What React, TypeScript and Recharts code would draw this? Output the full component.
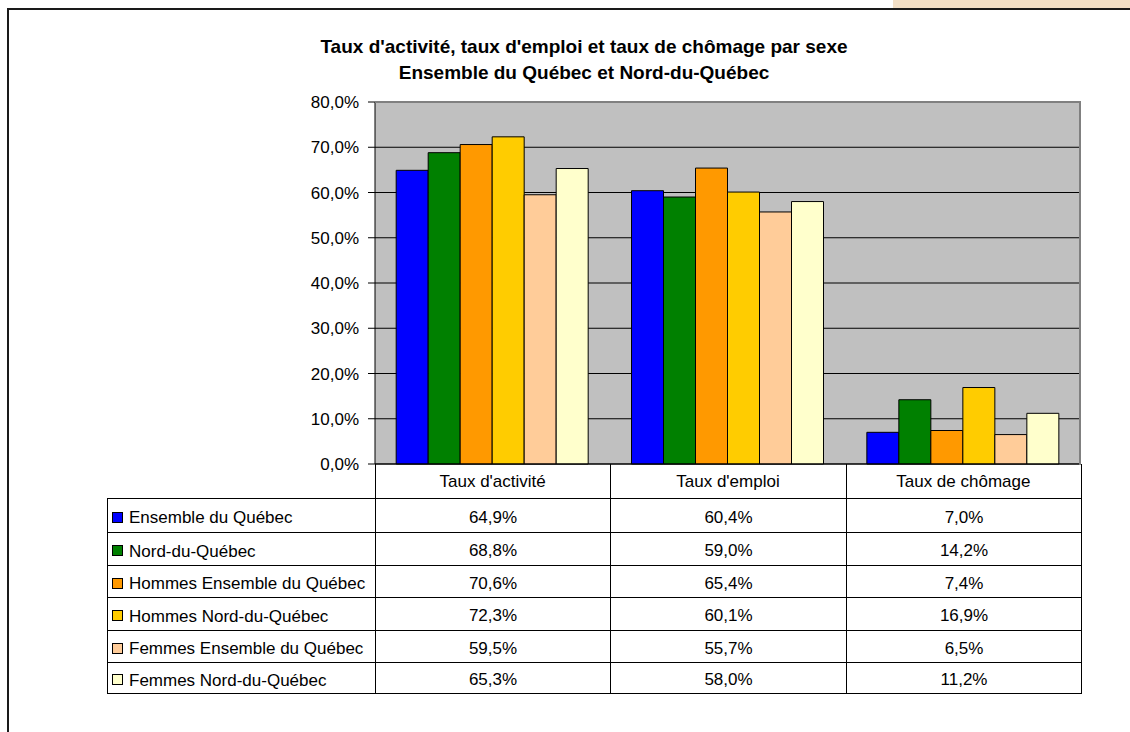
import React from "react";
import {
   BarChart,
   Bar,
   XAxis,
   YAxis,
   CartesianGrid,
} from "recharts";

const categories = ["Taux d'activité", "Taux d'emploi", "Taux de chômage"];

const seriesNames = [
   "Ensemble du Québec",
   "Nord-du-Québec",
   "Hommes Ensemble du Québec",
   "Hommes Nord-du-Québec",
   "Femmes Ensemble du Québec",
   "Femmes Nord-du-Québec",
];

const ensembleQuebec = [64.9, 60.4, 7.0];
const nordQuebec = [68.8, 59.0, 14.2];
const hommesEnsemble = [70.6, 65.4, 7.4];
const hommesNord = [72.3, 60.1, 16.9];
const femmesEnsemble = [59.5, 55.7, 6.5];
const femmesNord = [65.3, 58.0, 11.2];

const yTicks = [0, 10, 20, 30, 40, 50, 60, 70, 80];

const seriesValues = [
   ensembleQuebec,
   nordQuebec,
   hommesEnsemble,
   hommesNord,
   femmesEnsemble,
   femmesNord,
];

const colors = ["#0000FF", "#008000", "#FF9900", "#FFCC00", "#FFCC99", "#FFFFCC"];

const data = categories.map((cat, i) => {
   const row: Record<string, string | number> = { name: cat };
   seriesNames.forEach((s, j) => {
      row[s] = seriesValues[j][i];
   });
   return row;
});

const fmt = (v: number) => `${v.toFixed(1).replace(".", ",")}%`;

const FONT = "'Liberation Sans', Arial, sans-serif";

// row heights of the data table
const rowHeights = [34.5, 32.5, 32.5, 32.5, 32.5, 30.5];

const CategoryTick = (props: any) => {
   const { x, y, payload } = props;
   return (
      <text
         x={x}
         y={y + 9}
         textAnchor="middle"
         dominantBaseline="central"
         fontSize={17}
         fontFamily={FONT}
         fill="#000"
      >
         {payload.value}
      </text>
   );
};

const cellBorder = "1px solid #000";

const App: React.FC = () => {
   return (
      <div
         style={{
            position: "fixed",
            left: 0,
            top: 0,
            width: 1130,
            height: 732,
            overflow: "hidden",
            background: "#fff",
            fontFamily: FONT,
         }}
      >
         <div
            style={{
               position: "absolute",
               left: 893,
               top: 0,
               width: 237,
               height: 8,
               background: "#F2DFC6",
            }}
         />
         <div
            style={{
               position: "absolute",
               left: 7,
               top: 8,
               width: 1200,
               height: 800,
               borderLeft: "2px solid #1a1a1a",
               borderTop: "2px solid #1a1a1a",
            }}
         />
         <div
            style={{
               position: "absolute",
               left: 284,
               top: 34,
               width: 600,
               textAlign: "center",
               fontWeight: "bold",
               fontSize: 19,
               lineHeight: "26px",
               color: "#000",
            }}
         >
            <div>Taux d'activité, taux d'emploi et taux de chômage par sexe</div>
            <div>Ensemble du Québec et Nord-du-Québec</div>
         </div>

         <div style={{ position: "absolute", left: 0, top: 0 }}>
            <BarChart
               width={1130}
               height={498}
               data={data}
               margin={{ top: 102, right: 49, left: 315, bottom: 0 }}
               barCategoryGap="9%"
               barGap={0}
            >
               <CartesianGrid
                  vertical={false}
                  stroke="#000"
                  fill="#C0C0C0"
                  fillOpacity={1}
               />
               <XAxis
                  dataKey="name"
                  height={34}
                  tickLine={false}
                  axisLine={{ stroke: "#000" }}
                  tick={<CategoryTick />}
                  interval={0}
               />
               <YAxis
                  width={60}
                  domain={[0, 80]}
                  ticks={yTicks}
                  tickFormatter={fmt}
                  tickSize={7}
                  tickMargin={9}
                  axisLine={{ stroke: "#000" }}
                  tickLine={{ stroke: "#000" }}
                  tick={{ fill: "#000", fontSize: 17, fontFamily: FONT }}
                  interval={0}
               />
               {seriesNames.map((s, j) => (
                  <Bar
                     key={s}
                     dataKey={s}
                     fill={colors[j]}
                     stroke="#000"
                     strokeWidth={1}
                     isAnimationActive={false}
                  />
               ))}
            </BarChart>
         </div>

         <div
            style={{
               position: "absolute",
               left: 375,
               top: 101,
               width: 704,
               height: 362,
               borderTop: "2px solid #808080",
               borderRight: "2px solid #808080",
               pointerEvents: "none",
            }}
         />

         <table
            style={{
               position: "absolute",
               left: 107,
               top: 464,
               borderCollapse: "collapse",
               tableLayout: "fixed",
               width: 975,
               fontSize: 17,
               color: "#000",
            }}
         >
            <colgroup>
               <col style={{ width: 268 }} />
               <col style={{ width: 235 }} />
               <col style={{ width: 236 }} />
               <col style={{ width: 235 }} />
            </colgroup>
            <tbody>
               <tr style={{ height: 34 }}>
                  <td style={{ padding: 0 }} />
                  {categories.map((c) => (
                     <td
                        key={c}
                        style={{ padding: 0, borderLeft: cellBorder, borderRight: cellBorder, borderBottom: cellBorder }}
                     />
                  ))}
               </tr>
               {seriesNames.map((s, j) => (
                  <tr key={s} style={{ height: rowHeights[j] }}>
                     <td
                        style={{
                           padding: "5px 0 0 4px",
                           border: cellBorder,
                           whiteSpace: "nowrap",
                           lineHeight: "20px",
                        }}
                     >
                        <span
                           style={{
                              display: "inline-block",
                              width: 9,
                              height: 9,
                              background: colors[j],
                              border: "1px solid #000",
                              marginRight: 6,
                              verticalAlign: "middle",
                              position: "relative",
                              top: -1,
                           }}
                        />
                        <span style={{ verticalAlign: "middle" }}>{s}</span>
                     </td>
                     {seriesValues[j].map((v, i) => (
                        <td
                           key={i}
                           style={{
                              padding: "5px 0 0 0",
                              border: cellBorder,
                              textAlign: "center",
                              lineHeight: "20px",
                           }}
                        >
                           {fmt(v)}
                        </td>
                     ))}
                  </tr>
               ))}
            </tbody>
         </table>
      </div>
   );
};

export default App;
